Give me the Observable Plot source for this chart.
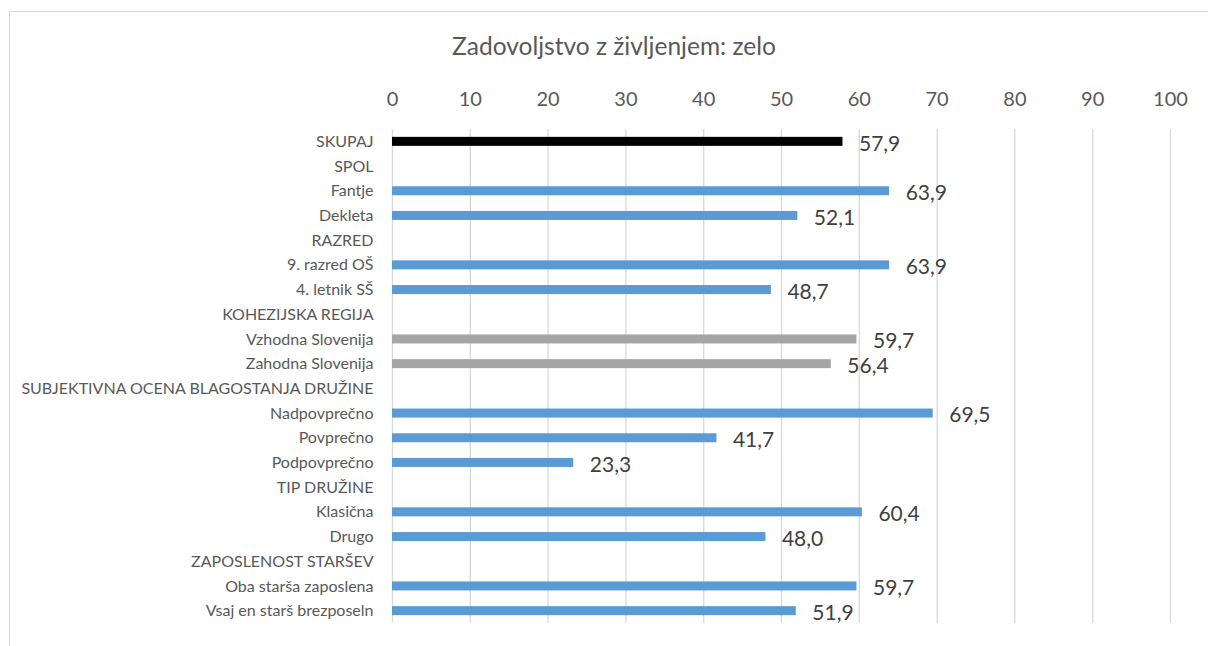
<!DOCTYPE html>
<html><head><meta charset="utf-8">
<script src="https://cdn.jsdelivr.net/npm/d3@7"></script>
<script src="https://cdn.jsdelivr.net/npm/@observablehq/plot@0.6"></script>
<style>
html,body{margin:0;padding:0;background:#fff;overflow:hidden;}
#wrap{position:relative;width:1208px;height:646px;font-family:Lato,sans-serif;overflow:hidden;}
#frame{position:absolute;left:9px;top:11px;width:1400px;height:900px;border:1px solid #d9d9d9;}
#title{position:absolute;left:0;width:1228px;top:31px;text-align:center;font-size:24.5px;color:#595959;}
#chart{position:absolute;left:0;top:0;}
</style></head>
<body>
<div id="wrap"><div id="frame"></div><div id="title">Zadovoljstvo z življenjem: zelo</div><div id="chart"></div></div>
<script>
const categories = ["SKUPAJ","SPOL","Fantje","Dekleta","RAZRED","9. razred OŠ","4. letnik SŠ","KOHEZIJSKA REGIJA","Vzhodna Slovenija","Zahodna Slovenija","SUBJEKTIVNA OCENA BLAGOSTANJA DRUŽINE","Nadpovprečno","Povprečno","Podpovprečno","TIP DRUŽINE","Klasična","Drugo","ZAPOSLENOST STARŠEV","Oba starša zaposlena","Vsaj en starš brezposeln"];
const values = [57.9,null,63.9,52.1,null,63.9,48.7,null,59.7,56.4,null,69.5,41.7,23.3,null,60.4,48.0,null,59.7,51.9];
const groups = ["skupaj",null,"skupina","skupina",null,"skupina","skupina",null,"regija","regija",null,"skupina","skupina","skupina",null,"skupina","skupina",null,"skupina","skupina"];
const xTicks = [0,10,20,30,40,50,60,70,80,90,100];

const data = categories.map((c,i)=>({category:c, value:values[i], group:groups[i], label: values[i]==null? "" : values[i].toFixed(1).replace(".", ",")})).filter(d=>d.value!=null);

const chart = Plot.plot({
  width:1208, height:646,
  marginLeft:392, marginRight:38, marginTop:129, marginBottom:23,
  style:{fontFamily:"Lato, sans-serif", background:"transparent"},
  x:{domain:[0,100]},
  y:{domain:categories, padding:0, round:false},
  color:{domain:["skupaj","regija","skupina"], range:["#000000","#A5A5A5","#5B9BD5"]},
  marks:[
    Plot.gridX(xTicks,{stroke:"#d9d9d9", strokeOpacity:1, strokeWidth:1.3}),
    Plot.axisX({anchor:"top", ticks:xTicks, tickSize:0, tickPadding:24, fontSize:20, color:"#595959", label:null}),
    Plot.axisY({anchor:"left", tickSize:0, tickPadding:19, fontSize:16, color:"#595959", label:null}),
    Plot.barX(data,{x:"value", y:"category", fill:"group", insetTop:7.85, insetBottom:7.85}),
    Plot.text(data,{x:"value", y:"category", text:"label", textAnchor:"start", dx:16, dy:2, fontSize:21, fill:"#404040"})
  ]
});
document.getElementById("chart").appendChild(chart);
</script>
</body></html>
